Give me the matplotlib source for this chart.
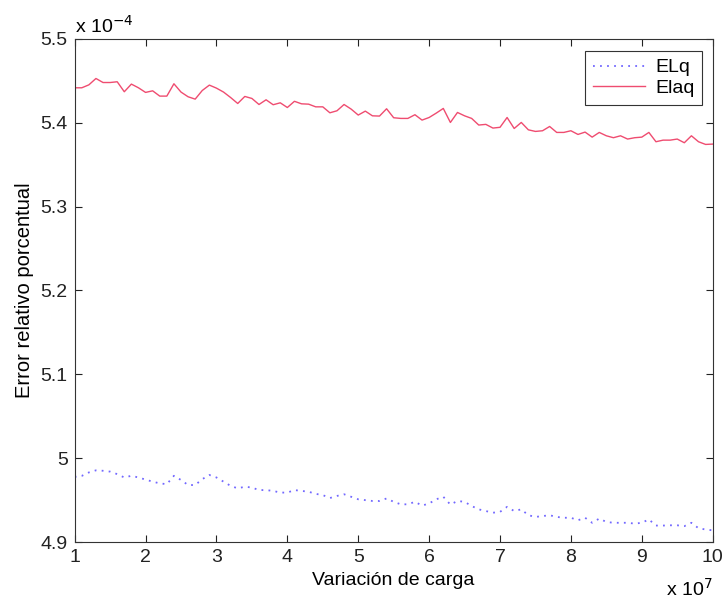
import numpy as np
import matplotlib
matplotlib.use('Agg')
from matplotlib import pyplot as plt

plt.rcParams['font.family'] = ['Liberation Sans', 'DejaVu Sans']

# carga: 1e7 .. 1e8 en pasos de 1e6 (eje en unidades de 1e7)
carga = np.arange(10, 101) / 10.0

# error relativo porcentual (unidades de 1e-4)
elq = [4.9777, 4.9789, 4.983, 4.9855, 4.985, 4.984, 4.981, 4.977, 4.979, 4.977,
       4.9745, 4.972, 4.970, 4.969, 4.979, 4.974, 4.968, 4.968, 4.975, 4.980,
       4.977, 4.972, 4.967, 4.964, 4.966, 4.965, 4.962, 4.962, 4.961, 4.959,
       4.959, 4.962, 4.961, 4.960, 4.9575, 4.956, 4.9525, 4.955, 4.957, 4.954,
       4.951, 4.950, 4.949, 4.949, 4.952, 4.948, 4.945, 4.945, 4.948, 4.9435,
       4.946, 4.951, 4.954, 4.9447, 4.949, 4.948, 4.943, 4.939, 4.937, 4.935,
       4.936, 4.942, 4.937, 4.939, 4.932, 4.930, 4.931, 4.932, 4.930, 4.929,
       4.929, 4.926, 4.929, 4.923, 4.928, 4.924, 4.923, 4.923, 4.923, 4.922,
       4.923, 4.927, 4.9197, 4.9197, 4.920, 4.920, 4.919, 4.923, 4.9165, 4.915,
       4.914]

elaq = [5.4415, 5.4415, 5.4450, 5.4526, 5.4478, 5.4478, 5.4487, 5.4368, 5.4459, 5.4415,
        5.4360, 5.4379, 5.4316, 5.4316, 5.4463, 5.4364, 5.4308, 5.4280, 5.4383, 5.4447,
        5.4411, 5.4364, 5.4299, 5.4228, 5.4312, 5.4288, 5.4216, 5.4272, 5.4213, 5.4236,
        5.4180, 5.4254, 5.4224, 5.4220, 5.4188, 5.4188, 5.4117, 5.4141, 5.4216, 5.4161,
        5.4090, 5.4137, 5.4081, 5.4078, 5.4165, 5.4058, 5.4050, 5.4050, 5.4094, 5.4030,
        5.4061, 5.4113, 5.4169, 5.4002, 5.4121, 5.4081, 5.4050, 5.3971, 5.3979, 5.3935,
        5.3944, 5.4061, 5.3930, 5.4002, 5.3914, 5.3895, 5.3903, 5.3954, 5.3883, 5.3883,
        5.3903, 5.3859, 5.3887, 5.3827, 5.3883, 5.3843, 5.3820, 5.3843, 5.3804, 5.3820,
        5.3827, 5.3883, 5.3772, 5.3791, 5.3791, 5.3804, 5.3760, 5.3843, 5.3772, 5.3740,
        5.3744]

xticks = list(range(1, 11))
yticks = [4.9, 5.0, 5.1, 5.2, 5.3, 5.4, 5.5]
ytick_labels = ['4.9', '5', '5.1', '5.2', '5.3', '5.4', '5.5']

fig = plt.figure(figsize=(7.25, 6.05), dpi=100)
ax = fig.add_axes([0.103, 0.104, 0.880, 0.832])

ax.plot(carga, elq, linestyle=(0, (1, 2.9)), color='#7268ff', lw=1.3, label='ELq')
ax.plot(carga, elaq, '-', color='#ef4c70', lw=1.0, label='Elaq')

ax.set_xlim(1, 10)
ax.set_ylim(4.9, 5.5)
ax.set_xticks(xticks)
ax.set_xticklabels([str(t) for t in xticks])
ax.set_yticks(yticks)
ax.set_yticklabels(ytick_labels)
ax.tick_params(direction='in', top=True, right=True, labelsize=14, length=5,
               width=0.8, pad=5, colors='#222222')
for s in ax.spines.values():
    s.set_color('#333333')
    s.set_linewidth(0.8)

ax.set_xlabel('Variación de carga', fontsize=14, labelpad=4)
ax.set_ylabel('Error relativo porcentual', fontsize=14.5, labelpad=5)

# multiplicadores de escala al estilo matlab
ax.text(0.0, 1.004, r'x 10$^{-4}$', transform=ax.transAxes, fontsize=14,
        ha='left', va='bottom')
ax.text(1.0, -0.072, r'x 10$^{7}$', transform=ax.transAxes, fontsize=14,
        ha='right', va='top')

leg = ax.legend(loc='upper right', fontsize=14, fancybox=False, framealpha=1,
                edgecolor='#333333', handlelength=2.7, borderpad=0.4,
                labelspacing=0.15, handletextpad=0.5,
                bbox_to_anchor=(0.999, 0.995))
leg.get_frame().set_linewidth(0.8)

fig.savefig('out.png', dpi=100)
